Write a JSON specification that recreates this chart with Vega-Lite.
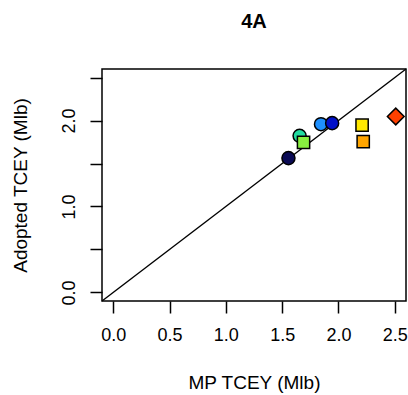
{
  "$schema": "https://vega.github.io/schema/vega-lite/v6.json",
  "width": 304,
  "height": 232,
  "autosize": {"type": "none"},
  "padding": {"left": 102, "top": 69, "right": 2, "bottom": 94},
  "background": "white",
  "title": {"text": "4A", "font": "Liberation Sans", "fontSize": 20, "fontWeight": "bold", "color": "black", "anchor": "middle", "frame": "group", "baseline": "alphabetic", "offset": 20},
  "config": {
    "view": {"stroke": "black", "strokeWidth": 1.5},
    "axis": {
      "grid": false,
      "domain": false,
      "tickColor": "black",
      "tickSize": 12,
      "tickWidth": 1.5,
      "labelFont": "Liberation Sans",
      "labelFontSize": 18,
      "labelColor": "black",
      "titleFont": "Liberation Sans",
      "titleFontSize": 19,
      "titleFontWeight": "normal",
      "titleColor": "black"
    }
  },
  "data": {"values": [
    {"mp": 1.556, "adopted": 1.563, "area": "a", "kind": "circle"},
    {"mp": 1.655, "adopted": 1.822, "area": "b", "kind": "circle"},
    {"mp": 1.69, "adopted": 1.745, "area": "c", "kind": "square"},
    {"mp": 1.845, "adopted": 1.958, "area": "d", "kind": "circle"},
    {"mp": 1.944, "adopted": 1.97, "area": "e", "kind": "circle"},
    {"mp": 2.21, "adopted": 1.946, "area": "f", "kind": "square"},
    {"mp": 2.22, "adopted": 1.756, "area": "g", "kind": "square"},
    {"mp": 2.509, "adopted": 2.047, "area": "h", "kind": "diamond"}
  ]},
  "encoding": {
    "x": {"field": "mp", "type": "quantitative", "scale": {"domain": [-0.1, 2.6], "nice": false, "zero": false},
      "axis": {"title": "MP TCEY (Mlb)", "values": [0, 0.5, 1, 1.5, 2, 2.5], "format": ".1f", "labelPadding": 13, "titlePadding": 29}},
    "y": {"field": "adopted", "type": "quantitative", "scale": {"domain": [-0.1, 2.6], "nice": false, "zero": false},
      "axis": {"title": "Adopted TCEY (Mlb)", "values": [0, 0.5, 1, 1.5, 2, 2.5], "labelExpr": "datum.value % 1 === 0 ? format(datum.value, '.1f') : ''", "labelAngle": -90, "labelAlign": "center", "labelBaseline": "bottom", "labelPadding": 12, "titlePadding": 30}},
    "fill": {"field": "area", "type": "nominal", "legend": null,
      "scale": {"domain": ["a", "b", "c", "d", "e", "f", "g", "h"], "range": ["#0b0b55", "#22dca0", "#88f040", "#1e90ff", "#0010c8", "#ffe800", "#ffa500", "#ff4000"]}}
  },
  "layer": [
    {
      "data": {"values": [{"x": -0.1, "y": -0.1, "x2": 2.6, "y2": 2.6}]},
      "mark": {"type": "rule", "color": "black", "strokeWidth": 1.4},
      "encoding": {
        "x": {"field": "x", "type": "quantitative"},
        "y": {"field": "y", "type": "quantitative"},
        "x2": {"field": "x2"},
        "y2": {"field": "y2"},
        "fill": {"value": null}
      }
    },
    {
      "transform": [{"filter": "datum.kind === 'circle'"}],
      "mark": {"type": "point", "shape": "circle", "size": 170, "filled": true, "stroke": "black", "strokeWidth": 1.5, "opacity": 1}
    },
    {
      "transform": [{"filter": "datum.kind === 'square'"}],
      "mark": {"type": "point", "shape": "square", "size": 150, "filled": true, "stroke": "black", "strokeWidth": 1.5, "opacity": 1}
    },
    {
      "transform": [{"filter": "datum.kind === 'diamond'"}],
      "mark": {"type": "point", "shape": "diamond", "size": 280, "filled": true, "stroke": "black", "strokeWidth": 1.5, "opacity": 1}
    }
  ]
}
